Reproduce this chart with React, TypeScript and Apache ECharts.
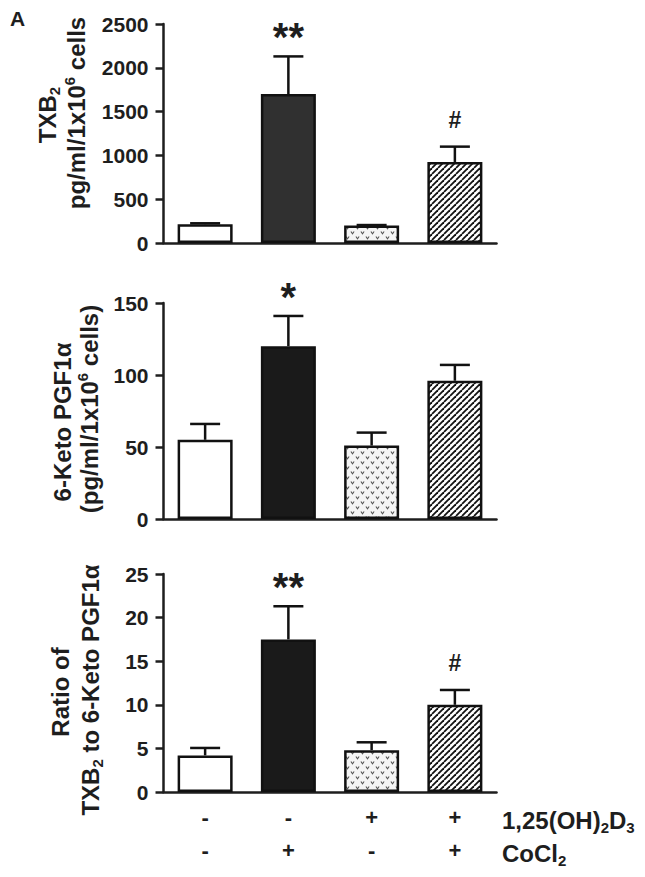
import React, { useEffect, useRef } from 'react';
import * as echarts from 'echarts';

// ---- data ----
const categories = ['Control', 'CoCl2', '1,25(OH)2D3', '1,25(OH)2D3 + CoCl2'];
const d3Row = ['-', '-', '+', '+'];
const cocl2Row = ['-', '+', '-', '+'];

const txb2Mean = [215, 1700, 200, 925];
const txb2Upper = [225, 2130, 205, 1100];
const txb2Marks = ['', '**', '', '#'];

const ketoMean = [55, 120, 51, 96];
const ketoUpper = [66, 141, 60, 107];
const ketoMarks = ['', '*', '', ''];

const ratioMean = [4.2, 17.5, 4.8, 10.0];
const ratioUpper = [5.05, 21.3, 5.7, 11.7];
const ratioMarks = ['', '**', '', '#'];

const yMaxes = [2500, 150, 25];
const yIntervals = [500, 50, 5];

const FONT = '"Liberation Sans", Arial, Helvetica, sans-serif';
const INK = '#1e1e1e';

function makeHatch(): any {
  const s = 6;
  const c = document.createElement('canvas');
  c.width = s;
  c.height = s;
  const g = c.getContext('2d')!;
  g.fillStyle = '#ffffff';
  g.fillRect(0, 0, s, s);
  g.strokeStyle = '#111';
  g.lineWidth = 1.8;
  for (const k of [-s, 0, s]) {
    g.beginPath();
    g.moveTo(k, s);
    g.lineTo(k + s, 0);
    g.stroke();
  }
  return { image: c.toDataURL(), imageWidth: s, imageHeight: s, repeat: 'repeat' };
}

function makeDots(): any {
  const s = 10;
  const c = document.createElement('canvas');
  c.width = s;
  c.height = s;
  const g = c.getContext('2d')!;
  g.fillStyle = '#f5f5f5';
  g.fillRect(0, 0, s, s);
  g.strokeStyle = '#555';
  g.lineWidth = 1.1;
  const v = (x: number, y: number) => {
    g.beginPath();
    g.moveTo(x - 1.6, y - 1);
    g.lineTo(x, y + 1.2);
    g.lineTo(x + 1.6, y - 1);
    g.stroke();
  };
  v(2.5, 2.5);
  v(7.5, 7.5);
  return { image: c.toDataURL(), imageWidth: s, imageHeight: s, repeat: 'repeat' };
}

export default function App() {
  const ref = useRef<HTMLDivElement>(null);

  useEffect(() => {
    document.body.style.margin = '0';
    const chart = echarts.init(ref.current!, null, { renderer: 'svg' });
    const hatch = makeHatch();
    const dots = makeDots();

    const grids = [
      { left: 163.5, width: 333, top: 24, height: 219 },
      { left: 163.5, width: 333, top: 303, height: 216 },
      { left: 163.5, width: 333, top: 574, height: 218 },
    ];

    const panels = [
      { mean: txb2Mean, upper: txb2Upper, marks: txb2Marks, dark: '#303030' },
      { mean: ketoMean, upper: ketoUpper, marks: ketoMarks, dark: '#1a1a1a' },
      { mean: ratioMean, upper: ratioUpper, marks: ratioMarks, dark: '#1a1a1a' },
    ];

    const xAxes = panels.map((_, p) => ({
      type: 'category',
      gridIndex: p,
      data: categories,
      axisLine: { lineStyle: { color: INK, width: 2.5 } },
      axisTick: { alignWithLabel: true, length: 6, lineStyle: { color: INK, width: 2.5 } },
      axisLabel: p === 2
        ? {
            show: true,
            interval: 0,
            margin: 9,
            fontFamily: FONT,
            fontWeight: 'bold',
            fontSize: 22,
            lineHeight: 33,
            color: INK,
            formatter: (_v: string, i: number) => d3Row[i] + '\n' + cocl2Row[i],
          }
        : { show: false },
      splitLine: { show: false },
    }));

    const yAxes = panels.map((_, p) => ({
      type: 'value',
      gridIndex: p,
      min: 0,
      max: yMaxes[p],
      interval: yIntervals[p],
      axisLine: { show: true, lineStyle: { color: INK, width: 2.5 } },
      axisTick: { show: true, length: 8, lineStyle: { color: INK, width: 2.5 } },
      axisLabel: {
        margin: 15,
        fontFamily: FONT,
        fontWeight: 'bold',
        fontSize: 21,
        color: INK,
        formatter: (v: number) => String(v),
      },
      splitLine: { show: false },
    }));

    const series: any[] = [];
    panels.forEach((pn, p) => {
      const fills = ['#ffffff', pn.dark, dots, hatch];
      series.push({
        type: 'bar',
        xAxisIndex: p,
        yAxisIndex: p,
        barWidth: 55,
        data: pn.mean.map((v, i) => ({
          value: v,
          itemStyle: { color: fills[i], borderColor: '#111', borderWidth: 2.5 },
        })),
        z: 2,
      });
      series.push({
        type: 'custom',
        xAxisIndex: p,
        yAxisIndex: p,
        z: 3,
        encode: { x: 0, y: [1, 2] },
        data: pn.mean.map((v, i) => [i, v, pn.upper[i]]),
        renderItem: (params: any, api: any) => {
          const i = api.value(0);
          const b = api.coord([i, api.value(1)]);
          const t = api.coord([i, api.value(2)]);
          const st = { stroke: '#111', lineWidth: 2.5 };
          const mark = pn.marks[params.dataIndex];
          const children: any[] = [
            { type: 'line', shape: { x1: b[0], y1: b[1], x2: t[0], y2: t[1] }, style: st },
            { type: 'line', shape: { x1: t[0] - 15, y1: t[1], x2: t[0] + 15, y2: t[1] }, style: st },
          ];
          if (mark) {
            const isStar = mark.indexOf('*') >= 0;
            children.push({
              type: 'text',
              x: t[0],
              y: t[1] - (isStar ? 19 : 27),
              style: {
                text: mark,
                fontFamily: FONT,
                fontWeight: 'bold',
                fontSize: isStar ? 40 : 23,
                fill: INK,
                textAlign: 'center',
                textVerticalAlign: 'middle',
              },
            });
          }
          return { type: 'group', children };
        },
      });
    });

    const base = { fontFamily: FONT, fontWeight: 'bold', fontSize: 24, fill: INK };
    const rich = {
      m: { fontFamily: FONT, fontWeight: 'bold', fontSize: 24, lineHeight: 29, color: INK },
      sub: { fontFamily: FONT, fontWeight: 'bold', fontSize: 15, lineHeight: 15, verticalAlign: 'bottom', color: INK },
      sup: { fontFamily: FONT, fontWeight: 'bold', fontSize: 15, lineHeight: 15, verticalAlign: 'top', color: INK },
    };
    const vtext = (x: number, y: number, text: string) => ({
      type: 'text',
      x,
      y,
      rotation: Math.PI / 2,
      style: { ...base, text, rich, textAlign: 'center', textVerticalAlign: 'middle' },
    });
    const htext = (x: number, y: number, text: string) => ({
      type: 'text',
      x,
      y,
      style: { ...base, text, rich, textAlign: 'left', textVerticalAlign: 'middle' },
    });

    const graphic = [
      {
        type: 'text',
        x: 10,
        y: 18,
        style: { ...base, fontSize: 21, text: 'A', textAlign: 'left', textVerticalAlign: 'middle' },
      },
      vtext(47, 115, '{m|TXB}{sub|2}'),
      vtext(76, 113, '{m|pg/ml/1x10}{sup|6}{m| cells}'),
      vtext(62, 422, '{m|6-Keto PGF1α}'),
      vtext(89, 409, '{m|(pg/ml/1x10}{sup|6}{m| cells)}'),
      vtext(60, 692, '{m|Ratio of}'),
      vtext(90, 690, '{m|TXB}{sub|2}{m| to 6-Keto PGF1α}'),
      htext(502, 820, '{m|1,25(OH)}{sub|2}{m|D}{sub|3}'),
      htext(502, 853, '{m|CoCl}{sub|2}'),
    ];

    chart.setOption({
      animation: false,
      backgroundColor: '#ffffff',
      grid: grids,
      xAxis: xAxes,
      yAxis: yAxes,
      series,
      graphic,
    });

    return () => chart.dispose();
  }, []);

  return <div ref={ref} style={{ width: 645, height: 877 }} />;
}
